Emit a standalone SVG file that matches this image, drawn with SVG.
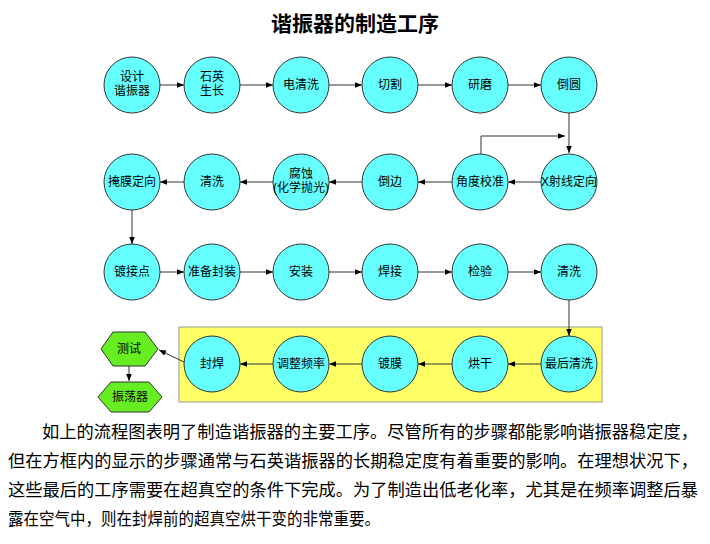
<svg xmlns="http://www.w3.org/2000/svg" width="710" height="544" viewBox="0 0 710 544">
<defs>
<style>
text{font-family:"Liberation Sans","Noto Sans CJK SC",sans-serif;fill:#000}
.c{fill:#66ffff;stroke:#333;stroke-width:1}
.h{fill:#66ee22;stroke:#333;stroke-width:1}
.l{font-size:12px;text-anchor:middle}
.e{stroke:#333;stroke-width:1;fill:none;marker-end:url(#a)}
.p{font-size:17px}
</style>
<marker id="a" viewBox="0 0 10 10" refX="10" refY="5" markerWidth="7" markerHeight="7" orient="auto"><path d="M0,1L10,5L0,9z" fill="#000"/></marker>
</defs>
<rect width="710" height="544" fill="#fff"/>
<text x="355" y="31" font-size="21" font-weight="bold" text-anchor="middle">谐振器的制造工序</text>
<rect x="179" y="327" width="423" height="75" fill="#ffff66" stroke="#999"/>
<g id="edges">
<path class="e" d="M160,85H184"/><path class="e" d="M240,85H273"/><path class="e" d="M329,85H362"/><path class="e" d="M418,85H452"/><path class="e" d="M508,85H541"/>
<path class="e" d="M569,113V153"/><path class="e" d="M481,154V136H565"/>
<path class="e" d="M541,182H508"/><path class="e" d="M452,182H418"/><path class="e" d="M362,182H329"/><path class="e" d="M273,182H240"/><path class="e" d="M184,182H160"/>
<path class="e" d="M132,210V244"/>
<path class="e" d="M160,272H184"/><path class="e" d="M240,272H273"/><path class="e" d="M329,272H362"/><path class="e" d="M418,272H452"/><path class="e" d="M508,272H541"/>
<path class="e" d="M569,300V336"/>
<path class="e" d="M541,364H508"/><path class="e" d="M452,364H418"/><path class="e" d="M362,364H329"/><path class="e" d="M273,364H240"/>
<path class="e" d="M184,362L159,350"/><path class="e" d="M129,366V381"/>
</g>
<g id="n1"><circle class="c" cx="132" cy="85" r="28"/><text class="l" x="132" y="81">设计</text><text class="l" x="132" y="95">谐振器</text></g>
<g id="n2"><circle class="c" cx="212" cy="85" r="28"/><text class="l" x="212" y="81">石英</text><text class="l" x="212" y="95">生长</text></g>
<g id="n3"><circle class="c" cx="301" cy="85" r="28"/><text class="l" x="301" y="89">电清洗</text></g>
<g id="n4"><circle class="c" cx="390" cy="85" r="28"/><text class="l" x="390" y="89">切割</text></g>
<g id="n5"><circle class="c" cx="480" cy="85" r="28"/><text class="l" x="480" y="89">研磨</text></g>
<g id="n6"><circle class="c" cx="569" cy="85" r="28"/><text class="l" x="569" y="89">倒圆</text></g>
<g id="n7"><circle class="c" cx="569" cy="182" r="28"/><text class="l" x="569" y="186">X射线定向</text></g>
<g id="n8"><circle class="c" cx="480" cy="182" r="28"/><text class="l" x="480" y="186">角度校准</text></g>
<g id="n9"><circle class="c" cx="390" cy="182" r="28"/><text class="l" x="390" y="186">倒边</text></g>
<g id="n10"><circle class="c" cx="301" cy="182" r="28"/><text class="l" x="301" y="178">腐蚀</text><text class="l" x="301" y="192">(化学抛光)</text></g>
<g id="n11"><circle class="c" cx="212" cy="182" r="28"/><text class="l" x="212" y="186">清洗</text></g>
<g id="n12"><circle class="c" cx="132" cy="182" r="28"/><text class="l" x="132" y="186">掩膜定向</text></g>
<g id="n13"><circle class="c" cx="132" cy="272" r="28"/><text class="l" x="132" y="276">镀接点</text></g>
<g id="n14"><circle class="c" cx="212" cy="272" r="28"/><text class="l" x="212" y="276">准备封装</text></g>
<g id="n15"><circle class="c" cx="301" cy="272" r="28"/><text class="l" x="301" y="276">安装</text></g>
<g id="n16"><circle class="c" cx="390" cy="272" r="28"/><text class="l" x="390" y="276">焊接</text></g>
<g id="n17"><circle class="c" cx="480" cy="272" r="28"/><text class="l" x="480" y="276">检验</text></g>
<g id="n18"><circle class="c" cx="569" cy="272" r="28"/><text class="l" x="569" y="276">清洗</text></g>
<g id="n19"><circle class="c" cx="569" cy="364" r="28"/><text class="l" x="569" y="368">最后清洗</text></g>
<g id="n20"><circle class="c" cx="480" cy="364" r="28"/><text class="l" x="480" y="368">烘干</text></g>
<g id="n21"><circle class="c" cx="390" cy="364" r="28"/><text class="l" x="390" y="368">镀膜</text></g>
<g id="n22"><circle class="c" cx="301" cy="364" r="28"/><text class="l" x="301" y="368">调整频率</text></g>
<g id="n23"><circle class="c" cx="212" cy="364" r="28"/><text class="l" x="212" y="368">封焊</text></g>
<g id="n24"><polygon class="h" points="101,349 113,332 145,332 158,349 145,366 113,366"/><text class="l" x="129" y="353">测试</text></g>
<g id="n25"><polygon class="h" points="98,397 111,382 149,382 162,397 149,412 111,412"/><text class="l" x="130" y="401">振荡器</text></g>
<text class="p" x="42" y="438" textLength="656" lengthAdjust="spacingAndGlyphs">如上的流程图表明了制造谐振器的主要工序。尽管所有的步骤都能影响谐振器稳定度，</text>
<text class="p" x="8" y="467" textLength="690" lengthAdjust="spacingAndGlyphs">但在方框内的显示的步骤通常与石英谐振器的长期稳定度有着重要的影响。在理想状况下，</text>
<text class="p" x="8" y="496" textLength="690" lengthAdjust="spacingAndGlyphs">这些最后的工序需要在超真空的条件下完成。为了制造出低老化率，尤其是在频率调整后暴</text>
<text class="p" x="8" y="525" textLength="372" lengthAdjust="spacingAndGlyphs">露在空气中，则在封焊前的超真空烘干变的非常重要。</text>
</svg>
